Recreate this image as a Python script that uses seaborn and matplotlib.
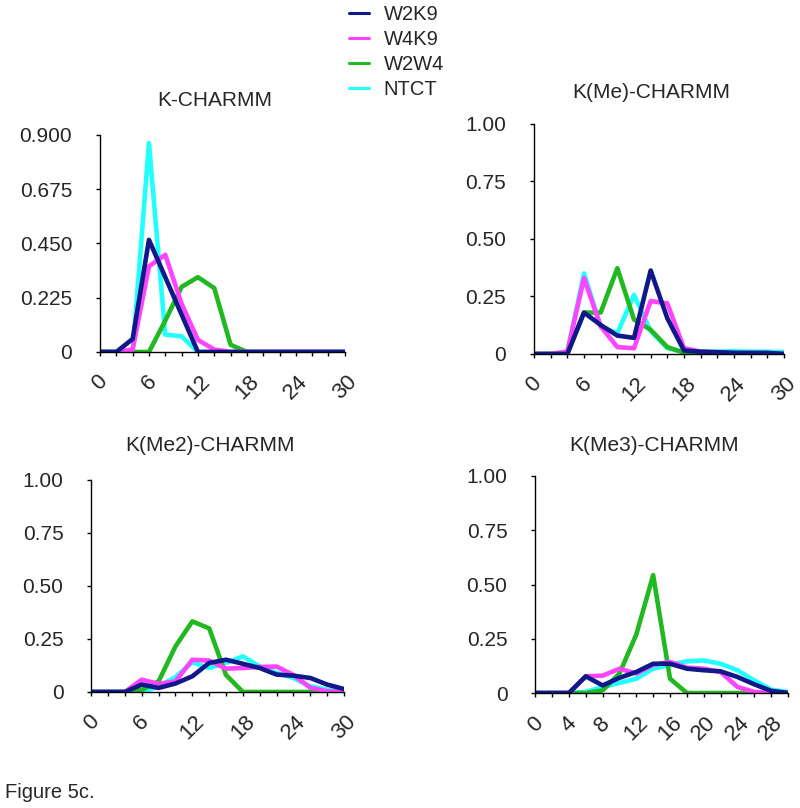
import numpy as np
import pandas as pd
import matplotlib
matplotlib.use("Agg")
import matplotlib.pyplot as plt
from matplotlib.lines import Line2D
import seaborn as sns

categories = [0, 2, 4, 6, 8, 10, 12, 14, 16, 18, 20, 22, 24, 26, 28, 30]
series_names = ["W2K9", "W4K9", "W2W4", "NTCT"]
colors = {"W2K9": "#10188a", "W4K9": "#ff44ff", "W2W4": "#22b822", "NTCT": "#22ffff"}

# K-CHARMM
k_w2k9 = [0, 0, 0.054, 0.465, 0.31, 0.155, 0, 0, 0, 0, 0, 0, 0, 0, 0, 0]
k_w4k9 = [0, 0, 0.01, 0.355, 0.403, 0.20, 0.05, 0.01, 0, 0, 0, 0, 0, 0, 0, 0]
k_w2w4 = [0, 0, 0, 0, 0.13, 0.27, 0.31, 0.265, 0.03, 0, 0, 0, 0, 0, 0, 0]
k_ntct = [0, 0, 0, 0.866, 0.072, 0.065, 0, 0, 0, 0, 0, 0, 0, 0, 0, 0]

# K(Me)-CHARMM
me_w2k9 = [0, 0, 0, 0.18, 0.126, 0.08, 0.07, 0.363, 0.155, 0.015, 0.01, 0.008, 0.005, 0.005, 0.005, 0]
me_w4k9 = [0, 0, 0.01, 0.33, 0.12, 0.03, 0.025, 0.23, 0.22, 0.025, 0.01, 0.005, 0, 0, 0, 0]
me_w2w4 = [0, 0, 0, 0.18, 0.18, 0.373, 0.15, 0.105, 0.03, 0.005, 0, 0, 0, 0, 0, 0]
me_ntct = [0, 0, 0.01, 0.35, 0.12, 0.09, 0.257, 0.10, 0.025, 0.01, 0.01, 0.01, 0.012, 0.01, 0.01, 0.008]

# K(Me2)-CHARMM
me2_w2k9 = [0, 0, 0, 0.035, 0.019, 0.04, 0.074, 0.137, 0.152, 0.133, 0.113, 0.082, 0.077, 0.066, 0.035, 0.014]
me2_w4k9 = [0, 0, 0, 0.058, 0.038, 0.05, 0.152, 0.148, 0.11, 0.113, 0.118, 0.12, 0.08, 0.02, 0.003, 0]
me2_w2w4 = [0, 0, 0, 0.01, 0.05, 0.215, 0.333, 0.30, 0.08, 0, 0, 0, 0, 0, 0, 0]
me2_ntct = [0, 0, 0, 0, 0.027, 0.07, 0.14, 0.113, 0.137, 0.168, 0.12, 0.09, 0.066, 0.027, 0.011, 0.005]

# K(Me3)-CHARMM
me3_w2k9 = [0, 0, 0, 0.077, 0.035, 0.07, 0.097, 0.135, 0.135, 0.112, 0.105, 0.10, 0.074, 0.04, 0.01, 0]
me3_w4k9 = [0, 0, 0, 0.077, 0.08, 0.112, 0.09, 0.13, 0.143, 0.117, 0.112, 0.097, 0.028, 0.005, 0, 0]
me3_w2w4 = [0, 0, 0, 0, 0.012, 0.09, 0.27, 0.543, 0.066, 0, 0, 0, 0, 0, 0, 0]
me3_ntct = [0, 0, 0, 0.005, 0.028, 0.046, 0.066, 0.112, 0.13, 0.146, 0.15, 0.135, 0.105, 0.058, 0.015, 0.005]

panels = [
    {
        "title": "K-CHARMM",
        "data": {"W2K9": k_w2k9, "W4K9": k_w4k9, "W2W4": k_w2w4, "NTCT": k_ntct},
        "yticks": [0, 0.225, 0.45, 0.675, 0.9],
        "ylabels": ["0", "0.225", "0.450", "0.675", "0.900"],
        "label_every": 3,
        "rect": [0.125, 0.5644, 0.306, 0.2686],
        "title_y": 100,
    },
    {
        "title": "K(Me)-CHARMM",
        "data": {"W2K9": me_w2k9, "W4K9": me_w4k9, "W2W4": me_w2w4, "NTCT": me_ntct},
        "yticks": [0, 0.25, 0.5, 0.75, 1.0],
        "ylabels": ["0", "0.25", "0.50", "0.75", "1.00"],
        "label_every": 3,
        "rect": [0.6675, 0.5619, 0.3125, 0.2847],
        "title_y": 93,
    },
    {
        "title": "K(Me2)-CHARMM",
        "data": {"W2K9": me2_w2k9, "W4K9": me2_w4k9, "W2W4": me2_w2w4, "NTCT": me2_ntct},
        "yticks": [0, 0.25, 0.5, 0.75, 1.0],
        "ylabels": ["0", "0.25", "0.50", "0.75", "1.00"],
        "label_every": 3,
        "rect": [0.114, 0.1436, 0.316, 0.2624],
        "title_y": 445,
    },
    {
        "title": "K(Me3)-CHARMM",
        "data": {"W2K9": me3_w2k9, "W4K9": me3_w4k9, "W2W4": me3_w2w4, "NTCT": me3_ntct},
        "yticks": [0, 0.25, 0.5, 0.75, 1.0],
        "ylabels": ["0", "0.25", "0.50", "0.75", "1.00"],
        "label_every": 2,
        "rect": [0.669, 0.1423, 0.316, 0.2686],
        "title_y": 445,
    },
]

sns.set_style("white")
plt.rcParams["font.family"] = ["Liberation Sans", "DejaVu Sans"]

fig = plt.figure(figsize=(8, 8.08), dpi=100)

draw_order = ["NTCT", "W2W4", "W4K9", "W2K9"]
pos = np.arange(len(categories))

for p in panels:
    ax = fig.add_axes(p["rect"])
    df = pd.DataFrame({"pos": pos})
    for name in draw_order:
        df[name] = p["data"][name]
        sns.lineplot(data=df, x="pos", y=name, color=colors[name], lw=3.3,
                     ax=ax, legend=False)
    ax.set_xlim(0, len(categories) - 1)
    ax.set_ylim(p["yticks"][0], p["yticks"][-1])
    ax.set_yticks(p["yticks"])
    ax.set_yticklabels(p["ylabels"])
    ax.set_xticks(pos)
    ax.set_xticklabels([str(c) if i % p["label_every"] == 0 else ""
                        for i, c in enumerate(categories)],
                       rotation=45, ha="center")
    ax.set_xlabel("")
    ax.set_ylabel("")
    for s in ["top", "right"]:
        ax.spines[s].set_visible(False)
    for s in ["left", "bottom"]:
        ax.spines[s].set_color("black")
        ax.spines[s].set_linewidth(1)
    ax.tick_params(axis="y", direction="out", length=3, width=1, color="black",
                   labelsize=15, pad=17, left=True)
    ax.tick_params(axis="x", direction="out", length=3, width=1, color="black",
                   labelsize=16, pad=11, bottom=True)
    cx = p["rect"][0] + p["rect"][2] / 2 - 0.01
    fig.text(cx, 1 - p["title_y"] / 808, p["title"], fontsize=15,
             ha="center", va="center")

handles = [Line2D([0], [0], color=colors[n], lw=2.2) for n in series_names]
fig.legend(handles, series_names, loc="upper left",
           bbox_to_anchor=(0.413, 1.016), frameon=False, fontsize=14.5,
           handlelength=1.0, handletextpad=0.75, labelspacing=0.3)

fig.text(0.006, 1 - 792 / 808, "Figure 5c.", fontsize=14.5, ha="left", va="center")

fig.savefig("out.png", dpi=100)
